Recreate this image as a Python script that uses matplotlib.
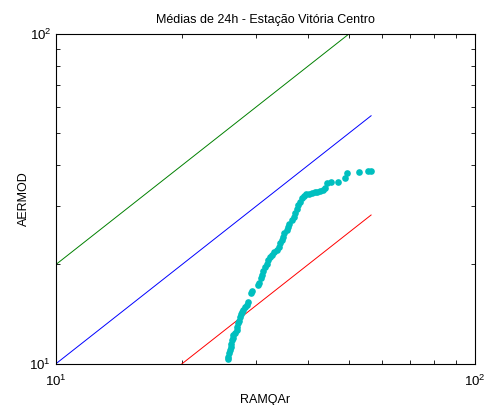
import numpy as np
import matplotlib.pyplot as plt

plt.rcParams['font.family'] = ['Liberation Sans', 'DejaVu Sans']
plt.rcParams['mathtext.fontset'] = 'custom'
plt.rcParams['mathtext.rm'] = 'Liberation Sans'

# quantile pairs (sorted RAMQAr vs sorted AERMOD)
ramqar = [25.7, 25.8, 25.9, 26.0, 26.2, 26.2, 26.3, 26.4, 26.5, 26.7, 27.0, 27.1,
          27.2, 27.3, 27.5, 27.7, 27.8, 28.0, 28.3, 28.5, 28.7, 29.2, 29.4, 30.3,
          30.5, 30.8, 31.0, 31.2, 31.5, 31.8, 32.1, 32.4, 32.8, 33.2, 33.7, 34.0,
          34.3, 34.6, 34.9, 35.1, 35.6, 35.8, 36.0, 36.6, 36.9, 37.2, 37.5, 37.8,
          38.2, 38.6, 39.0, 39.5, 40.2, 40.8, 41.5, 42.0, 42.7, 43.4, 43.9, 44.4,
          45.3, 47.1, 48.9, 49.5, 52.9, 55.5, 56.5]
aermod = [10.3, 10.5, 10.8, 11.0, 11.2, 11.5, 11.8, 12.0, 12.2, 12.4, 12.65, 12.9,
          13.3, 13.5, 13.9, 14.1, 14.3, 14.6, 14.85, 15.1, 15.4, 16.4, 16.6, 17.3,
          17.6, 18.2, 18.6, 19.1, 19.6, 20.1, 20.6, 21.05, 21.4, 21.8, 22.1, 22.6,
          23.2, 23.8, 24.3, 24.9, 25.5, 25.95, 26.5, 27.3, 27.9, 28.6, 29.4, 30.3,
          31.0, 31.8, 32.3, 32.7, 32.8, 32.9, 33.1, 33.2, 33.4, 33.7, 34.1, 35.3,
          35.5, 35.5, 36.5, 37.8, 38.1, 38.4, 38.4]

# reference lines 1:1, 2:1, 1:2
line_x = [10, 56.5]
line_1to1 = [10, 56.5]
line_2to1 = [20, 113]
line_1to2 = [5, 28.25]

fig = plt.figure(figsize=(4.92, 4.05), dpi=100)
ax = fig.add_axes([0.1138, 0.102, 0.8516, 0.814])

ax.plot(line_x, line_1to1, color='#0000ff', lw=0.7)
ax.plot(line_x, line_2to1, color='#008000', lw=0.7)
ax.plot(line_x, line_1to2, color='#ff0000', lw=0.7)
ax.plot(ramqar, aermod, 'o', color='#00bfbf', ms=4.8, mec='none')

ax.set_xscale('log')
ax.set_yscale('log')
ax.set_xlim(10, 100)
ax.set_ylim(10, 100)

ax.tick_params(which='both', direction='in', top=True, right=True,
               labelsize=9.5, width=0.6)
ax.tick_params(which='major', length=3.5)
ax.tick_params(axis='x', which='major', pad=7)
ax.tick_params(which='minor', length=3, labelleft=False, labelbottom=False)
for s in ax.spines.values():
    s.set_linewidth(0.8)

ax.set_title('Médias de 24h - Estação Vitória Centro', fontsize=9, pad=8)
ax.set_xlabel('RAMQAr', fontsize=9, labelpad=4)
ax.set_ylabel('AERMOD', fontsize=9)
ax.yaxis.set_label_coords(-0.062, 0.5)

fig.savefig('out.png', dpi=100)
